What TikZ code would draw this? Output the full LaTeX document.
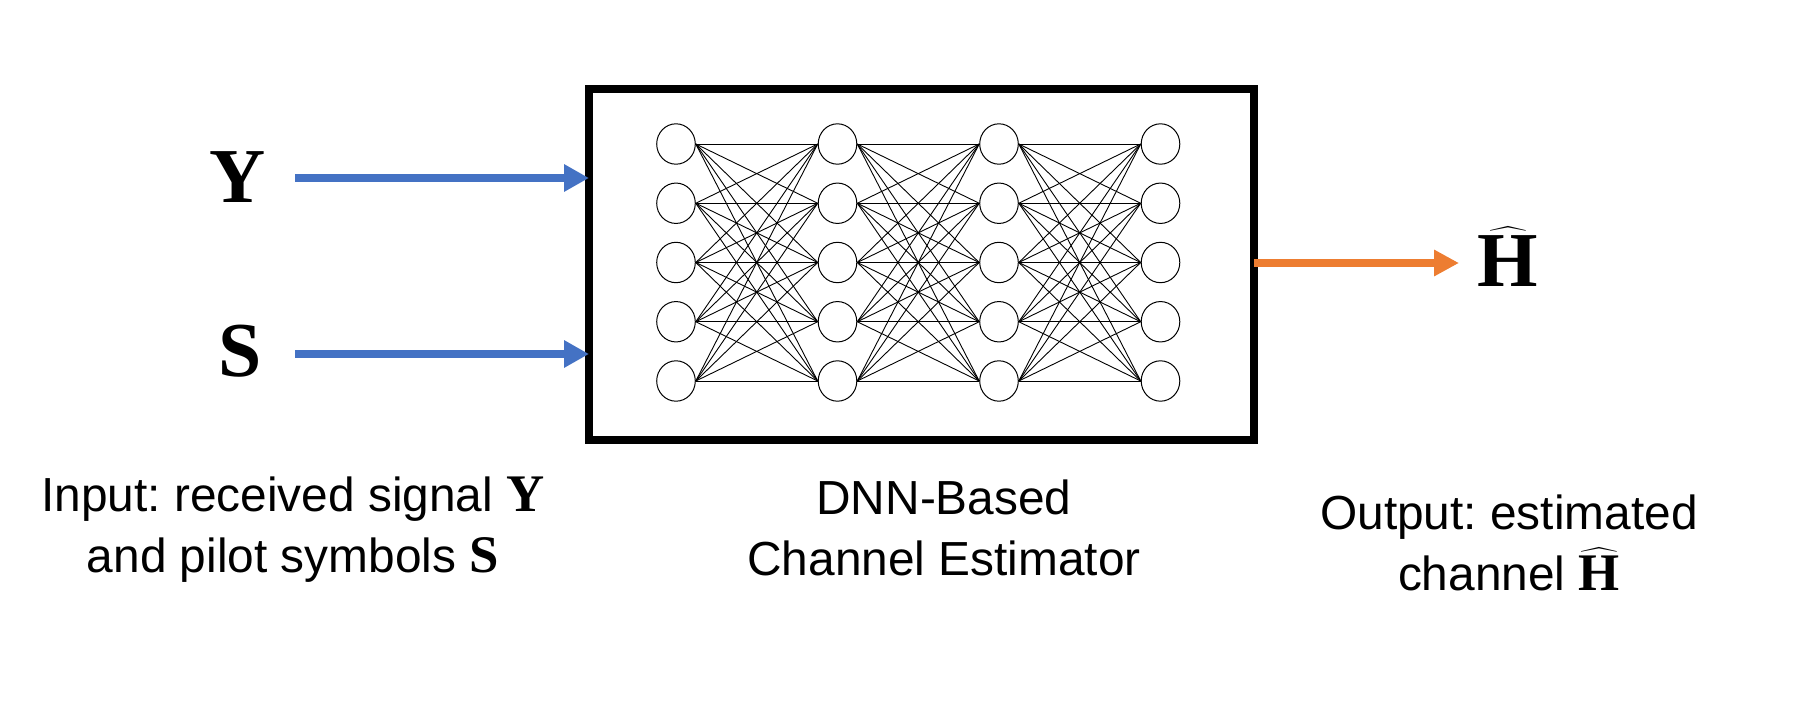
\RequirePackage{fix-cm}
\documentclass[tikz,border=0pt]{standalone}
\usepackage{exscale}
\usepackage{fontspec}
\setmainfont{Liberation Sans}
\newfontfamily\bserif{Liberation Serif}
\usetikzlibrary{arrows.meta,shapes.geometric}
\definecolor{inblue}{HTML}{4472C4}
\definecolor{outorange}{HTML}{ED7D31}
\frenchspacing
\begin{document}
\begin{tikzpicture}[x=1bp,y=-1bp,
  neuron/.style={draw, ellipse, minimum width=38.6bp, minimum height=40.4bp, inner sep=0pt, line width=1bp},
  link/.style={line width=0.9bp},
  estbox/.style={draw, line width=8bp, minimum width=665bp, minimum height=351bp, inner sep=0pt, outer sep=0pt},
  inarrow/.style={draw=inblue, line width=8.7bp, -{Triangle[length=25bp,width=26bp]}},
  outarrow/.style={draw=outorange, line width=8bp, -{Triangle[length=25bp,width=25bp]}},
  biglet/.style={inner sep=0pt, font=\fontsize{78}{90}\selectfont\bserif\bfseries},
  caption/.style={align=center, inner sep=0pt, font=\fontsize{48}{61}\selectfont}
]
\useasboundingbox (0,0) rectangle (1816,704);
% estimator box
\node[estbox] (box) at (921.5,264.5) {};
% neurons
\foreach \i in {0,...,3}{
  \foreach \j in {0,...,4}{
    \node[neuron] (n-\i-\j) at (676+161.5*\i,144+59.25*\j) {};
  }
}
\foreach \i/\k in {0/1,1/2,2/3}{
  \foreach \j in {0,...,4}{
    \foreach \m in {0,...,4}{
      \draw[link] (n-\i-\j.east) -- (n-\k-\m.west);
    }
  }
}
% inputs
\node[biglet, anchor=base] (Y) at (238,202) {Y};
\node[biglet, anchor=base] (S) at (240,376) {S};
\coordinate (ystart) at (295,178);
\coordinate (sstart) at (295,354);
\draw[inarrow] (ystart) -- (ystart -| box.west);
\draw[inarrow] (sstart) -- (sstart -| box.west);
% output
\node[biglet, anchor=base] (H) at (1508,286) {\(\widehat{\hbox{\bserif\bfseries H}}\)};
\coordinate (otip) at (1459,263);
\draw[outarrow] (otip -| box.east) -- (otip);
% captions
\node[caption] (incap) at (293,530) {Input: received signal {\fontsize{53}{61}\selectfont\bserif\bfseries Y}\\and pilot symbols {\fontsize{53}{61}\selectfont\bserif\bfseries S}};
\node[caption] (midcap) at (944,528) {DNN-Based\\Channel Estimator};
\node[caption] (outcap) at (1509,543) {Output: estimated\\channel {\fontsize{53}{61}\selectfont\(\widehat{\hbox{\bserif\bfseries H}}\)}};
\end{tikzpicture}
\end{document}
